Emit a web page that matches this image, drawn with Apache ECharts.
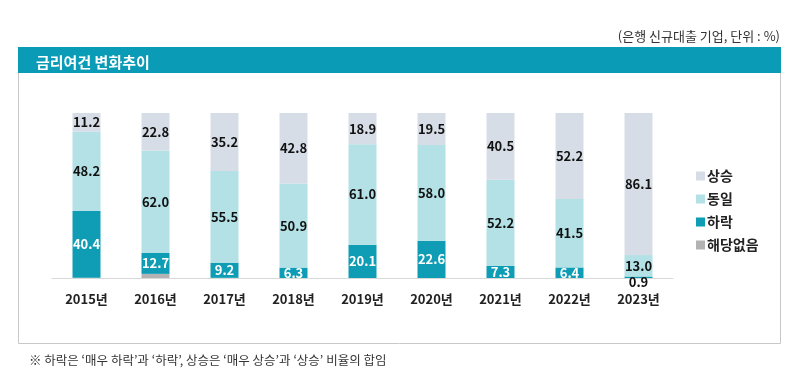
<!DOCTYPE html>
<html><head><meta charset="utf-8">
<script src="https://cdn.jsdelivr.net/npm/echarts@6/dist/echarts.min.js"></script>
<style>html,body{margin:0;padding:0;background:#fff}#c{width:800px;height:378px}</style>
</head><body><div id="c"></div>
<script>
const categories = ['2015년','2016년','2017년','2018년','2019년','2020년','2021년','2022년','2023년'];
const naValues   = [0.2, 2.5, 0.1, 0, 0, 0, 0, 0, 0];
const downValues = [40.4, 12.7, 9.2, 6.3, 20.1, 22.6, 7.3, 6.4, 0.9];
const sameValues = [48.2, 62.0, 55.5, 50.9, 61.0, 58.0, 52.2, 41.5, 13.0];
const upValues   = [11.2, 22.8, 35.2, 42.8, 18.9, 19.5, 40.5, 52.2, 86.1];
const seriesNames = ['해당없음','하락','동일','상승'];
const legendOrder = ['상승','동일','하락','해당없음'];
const titleText = '금리여건 변화추이';
const unitText = '(은행 신규대출 기업, 단위 : %)';
const noteText = '※ 하락은 ‘매우 하락’과 ‘하락’, 상승은 ‘매우 상승’과 ‘상승’ 비율의 합임';

const colors = {'해당없음':'#b3b3b3','하락':'#0e9db5','동일':'#b3e1e5','상승':'#d7dde6'};
const FONT = '"Noto Sans CJK KR", "Noto Sans", sans-serif';

const chart = echarts.init(document.getElementById('c'));
const lblBase = {show:true, position:'inside', fontFamily:FONT, fontWeight:'bold', fontSize:13};

const downData = downValues.map((v,i)=> i===8 ? {value:v, label:{color:'#111', offset:[0,5]}} : v);

const option = {
  animation:false,
  textStyle:{fontFamily:FONT},
  title:[
    {text:unitText, right:20, top:30, padding:0, textStyle:{fontFamily:FONT, fontSize:13, fontWeight:'normal', color:'#333'}},
    {text:titleText, left:31, top:50, textStyle:{fontFamily:FONT, fontSize:15, fontWeight:'bold', color:'#fff'}},
    {text:noteText, left:24, top:349, textStyle:{fontFamily:FONT, fontSize:12.5, fontWeight:'normal', color:'#333'}}
  ],
  graphic:[
    {type:'rect', z:-10, shape:{x:18.5, y:60.5, width:762, height:283}, style:{fill:'#fff', stroke:'#c8c8c8', lineWidth:1}},
    {type:'rect', z:-5, shape:{x:18, y:47, width:763, height:26}, style:{fill:'#0a9cb7'}}
  ],
  legend:{
    data:legendOrder, orient:'vertical', left:691, top:164, itemGap:9,
    itemWidth:9, itemHeight:9, icon:'rect',
    textStyle:{fontFamily:FONT, fontWeight:'bold', fontSize:14, color:'#222', padding:[0,0,0,-3]}
  },
  grid:{left:52, right:127, top:113, bottom:100},
  xAxis:{type:'category', data:categories,
    axisLine:{lineStyle:{color:'#d9d9d9', width:1}}, axisTick:{show:false},
    axisLabel:{fontFamily:FONT, fontWeight:'bold', fontSize:13, color:'#222', margin:15}},
  yAxis:{type:'value', min:0, max:100, show:false},
  series:[
    {name:'해당없음', type:'bar', stack:'a', barWidth:28, data:naValues, itemStyle:{color:colors['해당없음']}, label:{show:false}},
    {name:'하락', type:'bar', stack:'a', data:downData, itemStyle:{color:colors['하락']}, label:Object.assign({}, lblBase, {color:'#fff'})},
    {name:'동일', type:'bar', stack:'a', data:sameValues, itemStyle:{color:colors['동일']}, label:Object.assign({}, lblBase, {color:'#111', formatter:p=>p.value.toFixed(1)})},
    {name:'상승', type:'bar', stack:'a', data:upValues, itemStyle:{color:colors['상승']}, label:Object.assign({}, lblBase, {color:'#111', formatter:p=>p.value.toFixed(1)})}
  ]
};
option.series[1].label.formatter = p => Number(p.value).toFixed(1);
chart.setOption(option);
</script></body></html>
